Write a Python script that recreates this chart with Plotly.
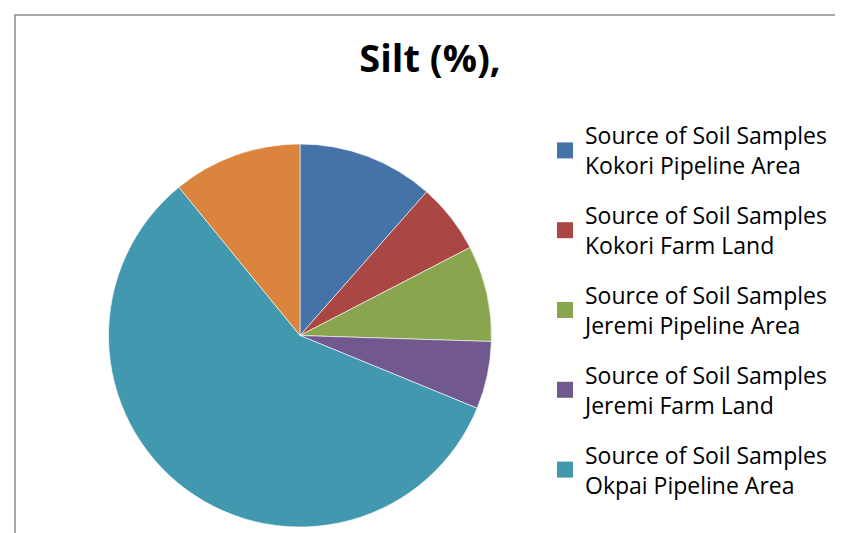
import plotly.graph_objects as go

# Silt (%) by source of soil samples (slice shares)
labels = [
    "Source of Soil Samples<br>Kokori Pipeline Area",
    "Source of Soil Samples<br>Kokori Farm Land",
    "Source of Soil Samples<br>Jeremi Pipeline Area",
    "Source of Soil Samples<br>Jeremi Farm Land",
    "Source of Soil Samples<br>Okpai Pipeline Area",
    "Source of Soil Samples<br>Okpai Farm Land",
]
values = [11.5, 5.9, 8.1, 5.7, 57.9, 10.9]
colors = ["#4572A7", "#AA4643", "#89A54E", "#71588F", "#4198AF", "#DB843D"]
in_legend = [True, True, True, True, True, False]

fig = go.Figure()

fig.add_trace(go.Pie(
    labels=labels, values=values, sort=False, direction="clockwise", rotation=0,
    marker=dict(colors=colors, line=dict(color="#ffffff", width=0.6)),
    textinfo="none", hoverinfo="label+percent", showlegend=False,
    domain=dict(x=[100 / 843, 484 / 843], y=[1 - 519 / 533, 1 - 136 / 533]),
))

# legend entries (the last slice has no entry in the original)
for i, (lab, col) in enumerate(zip(labels, colors)):
    if not in_legend[i]:
        continue
    fig.add_trace(go.Scatter(
        x=[None], y=[None], mode="markers", name=lab, legendgroup=str(i),
        marker=dict(symbol="square", size=16, color=col),
    ))

fig.update_layout(
    width=843, height=533,
    margin=dict(l=0, r=0, t=0, b=0),
    paper_bgcolor="white", plot_bgcolor="white",
    font=dict(family="Open Sans", color="#000000"),
    title=dict(text="<b>Silt (%),</b>", x=422 / 843, xanchor="center",
               y=1 - 51 / 533, yanchor="middle", font=dict(size=38)),
    xaxis=dict(visible=False), yaxis=dict(visible=False),
    legend=dict(x=537 / 843, y=1 - 106 / 533, xanchor="left", yanchor="top",
                font=dict(size=23), tracegroupgap=17, itemwidth=30,
                bgcolor="rgba(0,0,0,0)"),
    shapes=[dict(type="rect", xref="paper", yref="paper",
                 x0=7 / 843, x1=835 / 843, y0=-0.1, y1=1 - 7 / 533,
                 line=dict(color="#8c8c8c", width=1.5))],
)

fig.write_html("out.html")
